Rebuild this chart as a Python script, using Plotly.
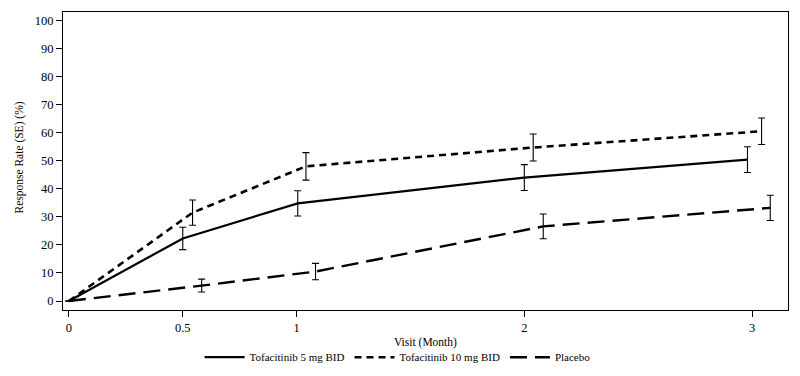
import plotly.graph_objects as go

# Data
months = [0, 0.5, 1, 2, 3]
x_offset_5mg = [0, 0.0, 0.005, 0.0, -0.02]
x_offset_10mg = [0, 0.043, 0.041, 0.039, 0.042]
x_offset_pbo = [0, 0.083, 0.083, 0.083, 0.08]

rate_5mg = [0, 22.3, 34.8, 44.0, 50.4]
se_5mg = [0, 4.0, 4.5, 4.6, 4.6]
rate_10mg = [0, 31.5, 48.0, 54.7, 60.5]
se_10mg = [0, 4.5, 4.9, 4.8, 4.7]
rate_pbo = [0, 5.5, 10.5, 26.6, 33.2]
se_pbo = [0, 2.3, 2.9, 4.4, 4.5]

series = [
    ("Tofacitinib 5 mg BID", x_offset_5mg, rate_5mg, se_5mg, "solid", 2.2),
    ("Tofacitinib 10 mg BID", x_offset_10mg, rate_10mg, se_10mg, "7px,5px", 2.6),
    ("Placebo", x_offset_pbo, rate_pbo, se_pbo, "17px,8px", 2.4),
]

font_family = "Liberation Serif, Times New Roman, serif"

fig = go.Figure()
for name, off, y, se, dash, w in series:
    xs = [m + o for m, o in zip(months, off)]
    fig.add_trace(go.Scatter(
        x=xs, y=y, name=name, mode="lines",
        line=dict(color="black", width=w, dash=dash),
        error_y=dict(type="data", array=se, visible=True, color="black",
                     thickness=1.1, width=3.5),
    ))

fig.update_layout(
    width=800, height=376,
    margin=dict(l=63, r=12, t=12, b=66, autoexpand=False),
    paper_bgcolor="white", plot_bgcolor="white",
    font=dict(family=font_family, color="black", size=12),
    showlegend=True,
    legend=dict(orientation="h", xref="container", yref="container",
                x=0.497, xanchor="center", y=0.05, yanchor="middle",
                font=dict(size=11, family=font_family), itemwidth=40,
                bgcolor="rgba(0,0,0,0)", tracegroupgap=0, traceorder="normal"),
    xaxis=dict(range=[-0.026, 3.158], tickvals=[0, 0.5, 1, 2, 3],
               ticktext=["0", "0.5", "1", "2", "3"],
               ticks="outside", ticklen=6, tickwidth=1, tickcolor="black",
               showline=True, linecolor="black", linewidth=1, mirror=True,
               showgrid=False, zeroline=False, tickfont=dict(size=12.5),
               automargin=False),
    yaxis=dict(range=[-3.2, 103.0], tickvals=list(range(0, 101, 10)),
               ticks="outside", ticklen=6, tickwidth=1, tickcolor="black",
               showline=True, linecolor="black", linewidth=1, mirror=True,
               showgrid=False, zeroline=False, tickfont=dict(size=12.5),
               automargin=False),
    annotations=[
        dict(text="Visit (Month)", xref="paper", yref="paper", x=0.5, y=-0.108,
             xanchor="center", yanchor="middle", showarrow=False,
             font=dict(size=11.5, family=font_family)),
        dict(text="Response Rate (SE) (%)", xref="paper", yref="paper",
             x=-0.06, y=0.51, xanchor="center", yanchor="middle", textangle=-90,
             showarrow=False, font=dict(size=11.5, family=font_family)),
    ],
)

fig.write_html("out.html", config={"displayModeBar": False},
               post_script="document.body.style.margin='0';document.body.style.overflow='hidden';")
